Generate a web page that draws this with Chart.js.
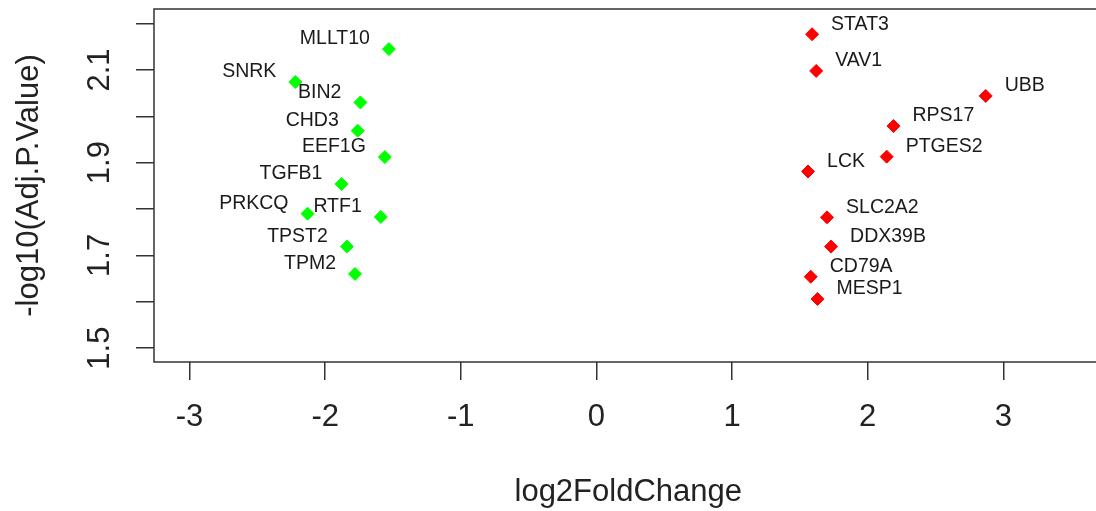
<!DOCTYPE html>
<html>
<head>
<meta charset="utf-8">
<script src="https://cdn.jsdelivr.net/npm/chart.js@4"></script>
<style>
  html, body { margin: 0; padding: 0; overflow: hidden; background: #fff; }
  canvas { display: block; }
</style>
</head>
<body>
<canvas id="volcano" width="1110" height="511"></canvas>
<script>
// down-regulated genes (green)
const genesDown = ['MLLT10', 'SNRK', 'BIN2', 'CHD3', 'EEF1G', 'TGFB1', 'PRKCQ', 'RTF1', 'TPST2', 'TPM2'];
const fcDown = [-1.53, -2.22, -1.74, -1.76, -1.56, -1.88, -2.13, -1.59, -1.84, -1.78];
const pDown = [2.145, 2.074, 2.030, 1.969, 1.912, 1.854, 1.790, 1.783, 1.719, 1.660];

// up-regulated genes (red)
const genesUp = ['STAT3', 'VAV1', 'UBB', 'RPS17', 'PTGES2', 'LCK', 'SLC2A2', 'DDX39B', 'CD79A', 'MESP1'];
const fcUp = [1.59, 1.62, 2.87, 2.19, 2.14, 1.56, 1.70, 1.73, 1.58, 1.63];
const pUp = [2.177, 2.098, 2.044, 1.979, 1.913, 1.881, 1.782, 1.719, 1.654, 1.606];

// only these y ticks get a label (R drops the rest)
const yLabelled = [1.5, 1.7, 1.9, 2.1];

const fontFamily = '"Liberation Sans", Arial, sans-serif';

function toPoints(xs, ys) {
    return xs.map((x, i) => ({ x: x, y: ys[i] }));
}

// fixed axis sizes, no extra label padding
function fixSize(w, h) {
    return (scale) => {
        if (w) scale.width = w;
        if (h) scale.height = h;
        scale.paddingTop = 0;
        scale.paddingBottom = 0;
        scale.paddingLeft = 0;
        scale.paddingRight = 0;
    };
}

// frame around the plot region + gene names next to the points
const rPlotStuff = {
    id: 'rPlotStuff',
    afterDatasetsDraw(chart) {
        const ctx = chart.ctx;
        ctx.save();
        ctx.font = '19.5px ' + fontFamily;
        ctx.fillStyle = '#1a1a1a';
        ctx.textBaseline = 'middle';
        chart.data.datasets.forEach((ds, di) => {
            const meta = chart.getDatasetMeta(di);
            meta.data.forEach((pt, i) => {
                const left = ds.data[i].x < 0;
                ctx.textAlign = left ? 'right' : 'left';
                ctx.fillText(ds.genes[i], pt.x + (left ? -19 : 19), pt.y - 10);
            });
        });
        ctx.restore();
    },
    afterDraw(chart) {
        const a = chart.chartArea;
        const ctx = chart.ctx;
        ctx.save();
        ctx.strokeStyle = '#333';
        ctx.lineWidth = 1.5;
        ctx.strokeRect(a.left, a.top, a.right - a.left + 30, a.bottom - a.top);
        ctx.restore();
    }
};

const ctx = document.getElementById('volcano');

new Chart(ctx, {
    type: 'scatter',
    data: {
        datasets: [{
            label: 'down',
            genes: genesDown,
            data: toPoints(fcDown, pDown),
            pointStyle: 'rectRot',
            pointRadius: 6.5,
            borderWidth: 1,
            backgroundColor: '#00ff00',
            borderColor: '#00ff00'
        }, {
            label: 'up',
            genes: genesUp,
            data: toPoints(fcUp, pUp),
            pointStyle: 'rectRot',
            pointRadius: 6.5,
            borderWidth: 1,
            backgroundColor: '#ff0000',
            borderColor: '#ff0000'
        }]
    },
    options: {
        responsive: false,
        animation: false,
        layout: { padding: { top: 9, right: 0, bottom: 0, left: 0 } },
        plugins: {
            legend: { display: false },
            tooltip: { enabled: false }
        },
        scales: {
            x: {
                type: 'linear',
                min: -3.262,
                max: 3.731,
                afterFit: fixSize(0, 149),
                border: { display: false },
                grid: {
                    drawOnChartArea: false,
                    drawTicks: true,
                    tickLength: 18,
                    color: '#333',
                    lineWidth: 1.5
                },
                ticks: {
                    stepSize: 1,
                    includeBounds: false,
                    autoSkip: false,
                    maxRotation: 0,
                    padding: 19,
                    color: '#222',
                    font: { family: fontFamily, size: 31, lineHeight: 1.2 },
                    callback: (v) => String(v)
                },
                title: {
                    display: true,
                    text: 'log2FoldChange',
                    color: '#222',
                    padding: { top: 0, bottom: 0 },
                    font: { family: fontFamily, size: 31, lineHeight: 1.2 }
                }
            },
            y: {
                type: 'linear',
                min: 1.470,
                max: 2.2315,
                afterFit: fixSize(154, 0),
                border: { display: false },
                grid: {
                    drawOnChartArea: false,
                    drawTicks: true,
                    tickLength: 18,
                    color: '#333',
                    lineWidth: 1.5
                },
                ticks: {
                    stepSize: 0.1,
                    includeBounds: false,
                    autoSkip: false,
                    minRotation: 90,
                    maxRotation: 90,
                    crossAlign: 'center',
                    padding: 14,
                    color: '#222',
                    font: { family: fontFamily, size: 31, lineHeight: 1.2 },
                    callback: (v) => {
                        const r = Math.round(v * 10) / 10;
                        return yLabelled.includes(r) ? r.toFixed(1) : '';
                    }
                },
                title: {
                    display: true,
                    text: '-log10(Adj.P.Value)',
                    color: '#222',
                    padding: { top: 11, bottom: 0 },
                    font: { family: fontFamily, size: 31, lineHeight: 1.2 }
                }
            }
        }
    },
    plugins: [rPlotStuff]
});
</script>
</body>
</html>
